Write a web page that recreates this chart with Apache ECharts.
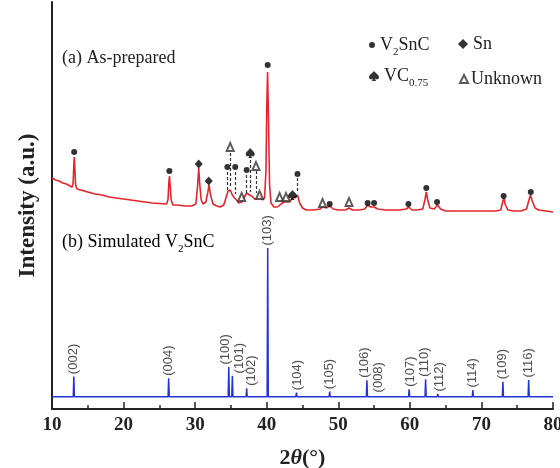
<!DOCTYPE html>
<html>
<head>
<meta charset="utf-8">
<script src="https://cdn.jsdelivr.net/npm/echarts@6/dist/echarts.min.js"></script>
<style>
  html, body { margin: 0; padding: 0; background: #fff; }
  #chart { width: 560px; height: 468px; }
</style>
</head>
<body>
<div id="chart"></div>
<script>
// ---- Measured pattern of the as-prepared sample: [2θ (deg), intensity (a.u.)]
const measured = [
  [10.0,231],[10.5,229],[11.0,228],[11.5,226],[12.0,225],[12.5,223],[12.8,222],
  [12.95,226],[13.05,244],[13.12,252],[13.2,239],[13.3,224],[13.5,220],[14.0,219],
  [15.0,217],[16.0,215],[17.0,214],[18.0,212],[19.0,211],[20.0,210],[21.0,209],
  [22.0,208],[23.0,207],[24.0,206],[25.0,205.5],[26.0,205],[26.2,209],[26.35,229],
  [26.42,233],[26.5,224],[26.65,209],[26.9,204],[27.5,204],[28.5,203],[29.5,203],
  [30.1,205],[30.35,224],[30.5,241],[30.65,224],[30.85,209],[31.1,205],[31.5,207],
  [31.75,216],[31.95,224],[32.15,214],[32.5,205],[33.0,203],[33.5,202],[34.0,204],
  [34.3,211],[34.6,218],[34.9,219],[35.2,214],[35.5,211],[35.8,209],[36.1,206],
  [36.5,207],[36.9,212],[37.2,216],[37.6,214],[37.9,213],[38.3,210],[38.6,210],
  [39.0,213],[39.4,209],[39.7,211],[39.9,239],[40.0,299],[40.12,337],[40.25,289],
  [40.4,224],[40.6,206],[41.0,202],[41.5,202],[42.0,205],[42.4,207],[42.8,207],
  [43.2,207],[43.6,211],[44.0,212],[44.3,214],[44.6,206],[45.0,201],[45.5,199],
  [46.5,199],[47.5,200],[47.9,203],[48.3,201],[48.8,203],[49.3,200],[50.0,199],
  [51.0,199],[51.5,201],[52.0,199],[53.0,199],[53.7,200],[54.1,204],[54.5,202],
  [55.0,202],[55.5,200],[56.5,199],[57.5,199],[58.5,199],[59.5,200],[59.85,202],
  [60.3,199],[61.0,199],[61.8,200],[62.1,209],[62.3,217],[62.5,209],[62.8,201],
  [63.4,200],[63.85,204],[64.3,200],[65.0,198],[66.0,198],[67.0,198],[68.0,198],
  [69.0,198],[70.0,198],[71.0,198],[72.0,198],[72.7,199],[73.0,208],[73.15,211],
  [73.35,204],[73.7,199],[74.5,198],[75.5,198],[76.3,200],[76.6,208],[76.85,214],
  [77.1,208],[77.5,201],[78.0,199],[79.0,198],[80.0,197]
];

// ---- Simulated V2SnC reflections: position, relative intensity (%), Miller indices
const simTheta     = [13.05, 26.3, 34.7, 35.2, 37.2, 40.14, 44.15, 48.8, 54.0, 54.3, 59.9, 62.2, 63.9, 68.8, 73.0, 76.6];
const simIntensity = [13.5, 12.4, 20.0, 14.0, 5.6, 100, 2.7, 3.4, 11.0, 1.2, 5.0, 11.7, 1.8, 4.5, 10.0, 11.2];
const simHkl       = ['(002)','(004)','(100)','(101)','(102)','(103)','(104)','(105)','(106)','(008)','(107)','(110)','(112)','(114)','(109)','(116)'];

// ---- Phase identification marks on the measured pattern: 2θ and mark height
const v2sncTheta   = [13.1, 26.4, 34.5, 35.6, 37.2, 40.14, 44.3, 48.8, 54.1, 55.0, 59.8, 62.3, 63.8, 73.1, 76.9];
const v2sncHeight  = [257, 238, 242, 242, 239, 344, 235, 205, 206, 206, 205, 221, 207, 213, 217];
const snTheta      = [30.5, 31.9];
const snHeight     = [245, 228];
const vcTheta      = [37.7, 43.6];
const vcHeight     = [256, 214];
const unknownTheta = [34.9, 36.5, 38.5, 39.0, 41.8, 42.7, 47.8, 51.5];
const unknownHeight= [262, 212, 243, 214, 212, 212, 206, 207];

// dashed guides from crowded marks down to their peaks
const guideTheta   = [34.5, 35.6, 34.9, 37.2, 37.7, 38.5, 44.3];
const guideTop     = [237, 237, 256, 234, 249, 238, 231];
const guideBottom  = [217, 215, 221, 214, 217, 216, 217];

// ---- drawing setup
const SERIF = 'Liberation Serif';
const SANS = 'Liberation Sans';
const simOffset = 12.3;   // vertical offset of the simulated pattern
const simScale = 1.487;   // a.u. per % relative intensity
const labelShift = { '(100)': -0.42, '(101)': 0.92, '(102)': 0.62, '(104)': 0.2, '(106)': -0.28,
                     '(008)': 1.25, '(107)': 0.24, '(110)': -0.1, '(112)': 0.3 };

// stick profile of the simulated pattern
const simLine = [[10, simOffset]];
simTheta.forEach((t, i) => {
  const top = simOffset + simIntensity[i] * simScale;
  simLine.push([t - 0.08, simOffset], [t, top], [t + 0.08, simOffset]);
});
simLine.push([80, simOffset]);

const hklPoints = simTheta.map((t, i) => ({
  name: simHkl[i],
  value: [t + (labelShift[simHkl[i]] || 0), simOffset + simIntensity[i] * simScale + 2.5]
}));

const zip = (a, b) => a.map((x, i) => [x, b[i]]);

const legendRich = {
  n: { fontFamily: SERIF, fontSize: 18, color: '#222', lineHeight: 20 },
  s: { fontFamily: SERIF, fontSize: 11, color: '#222', lineHeight: 10, verticalAlign: 'bottom', padding: [0, 0, -3, 0] }
};
const legendText = {
  'V2SnC': '{n|V}{s|2}{n|SnC}',
  'Sn': '{n|Sn}',
  'VC0.75': '{n|VC}{s|0.75}',
  'Unknown': '{n|Unknown}'
};
function makeLegend(name, left, top, w, h, pad) {
  return {
    data: [name], left: left, top: top, itemWidth: w, itemHeight: h,
    selectedMode: false, padding: 0,
    formatter: n => legendText[n],
    textStyle: { rich: legendRich, padding: pad || 0 }
  };
}

const chart = echarts.init(document.getElementById('chart'), null, { renderer: 'canvas' });
chart.setOption({
  animation: false,
  backgroundColor: '#fff',
  grid: { left: 52, right: 7, top: 2, bottom: 59, containLabel: false, outerBoundsMode: 'none' },
  legend: [
    makeLegend('V2SnC', 369, 36, 6, 6),
    makeLegend('Sn', 458, 35, 10, 10),
    makeLegend('VC0.75', 369, 67, 10, 11),
    makeLegend('Unknown', 459, 70, 8, 8, [0, 0, 0, -2])
  ],
  xAxis: {
    type: 'value', min: 10, max: 80, interval: 10,
    name: '{n|2}{i|θ}{n|(°)}', nameLocation: 'middle', nameGap: 38,
    nameTextStyle: { rich: {
      n: { fontFamily: SERIF, fontWeight: 'bold', fontSize: 22, color: '#222' },
      i: { fontFamily: SERIF, fontWeight: 'bold', fontStyle: 'italic', fontSize: 22, color: '#222' }
    } },
    axisLine: { show: true, onZero: false, lineStyle: { color: '#222', width: 2 } },
    axisTick: { show: true, inside: true, length: 7, lineStyle: { color: '#222', width: 1.5 } },
    minorTick: { show: true, splitNumber: 2, length: 4, lineStyle: { color: '#222', width: 1.5 } },
    axisLabel: { margin: 7, fontFamily: SERIF, fontWeight: 'bold', fontSize: 19, color: '#222' },
    splitLine: { show: false }
  },
  yAxis: {
    type: 'value', min: 0, max: 407,
    name: 'Intensity (a.u.)', nameLocation: 'middle', nameRotate: 90, nameGap: 12,
    nameTextStyle: { fontFamily: SERIF, fontWeight: 'bold', fontSize: 23, color: '#222' },
    axisLine: { show: true, lineStyle: { color: '#222', width: 2 } },
    axisTick: { show: false }, axisLabel: { show: false }, splitLine: { show: false }
  },
  graphic: [
    { type: 'text', left: 62, top: 49, style: { text: '(a) As-prepared', fontFamily: SERIF, fontSize: 18, fill: '#222' } },
    { type: 'text', left: 62, top: 233, style: {
        text: '{n|(b) Simulated V}{s|2}{n|SnC}',
        rich: legendRich } }
  ],
  series: [
    { name: 'measured', type: 'line', data: measured, showSymbol: false, symbol: 'none',
      lineStyle: { color: '#e3262c', width: 1.6 }, z: 2 },
    { name: 'simulated', type: 'line', data: simLine, showSymbol: false, symbol: 'none',
      lineStyle: { color: '#2433d6', width: 1.5 }, z: 2 },
    { name: 'guides', type: 'lines', coordinateSystem: 'cartesian2d', polyline: false,
      data: guideTheta.map((t, i) => ({ coords: [[t, guideTop[i]], [t, guideBottom[i]]] })),
      lineStyle: { color: '#333', width: 1.2, type: [3, 2], opacity: 1 }, z: 3 },
    { name: 'V2SnC', type: 'scatter', data: zip(v2sncTheta, v2sncHeight), symbol: 'circle', symbolSize: 6,
      itemStyle: { color: '#000' }, z: 5 },
    { name: 'Sn', type: 'scatter', data: zip(snTheta, snHeight), symbol: 'diamond', symbolSize: [8, 9],
      itemStyle: { color: '#000' }, z: 5 },
    { name: 'VC0.75', type: 'scatter', data: zip(vcTheta, vcHeight),
      symbol: 'path://M50 0 C35 22 0 38 0 62 C0 82 24 90 40 74 C38 86 33 94 26 100 L74 100 C67 94 62 86 60 74 C76 90 100 82 100 62 C100 38 65 22 50 0 Z',
      symbolSize: [9, 10], itemStyle: { color: '#000' }, z: 5 },
    { name: 'Unknown', type: 'scatter', data: zip(unknownTheta, unknownHeight), symbol: 'emptyTriangle', symbolSize: [7, 8],
      itemStyle: { color: '#333', borderWidth: 0.9 }, z: 5 },
    { name: 'hkl', type: 'scatter', data: hklPoints, symbolSize: 0, silent: true, z: 6,
      label: { show: true, position: [0, 0], rotate: 90, align: 'left', verticalAlign: 'middle',
               formatter: p => p.name, fontFamily: SANS, fontSize: 13, color: '#222' } }
  ]
});
</script>
</body>
</html>
